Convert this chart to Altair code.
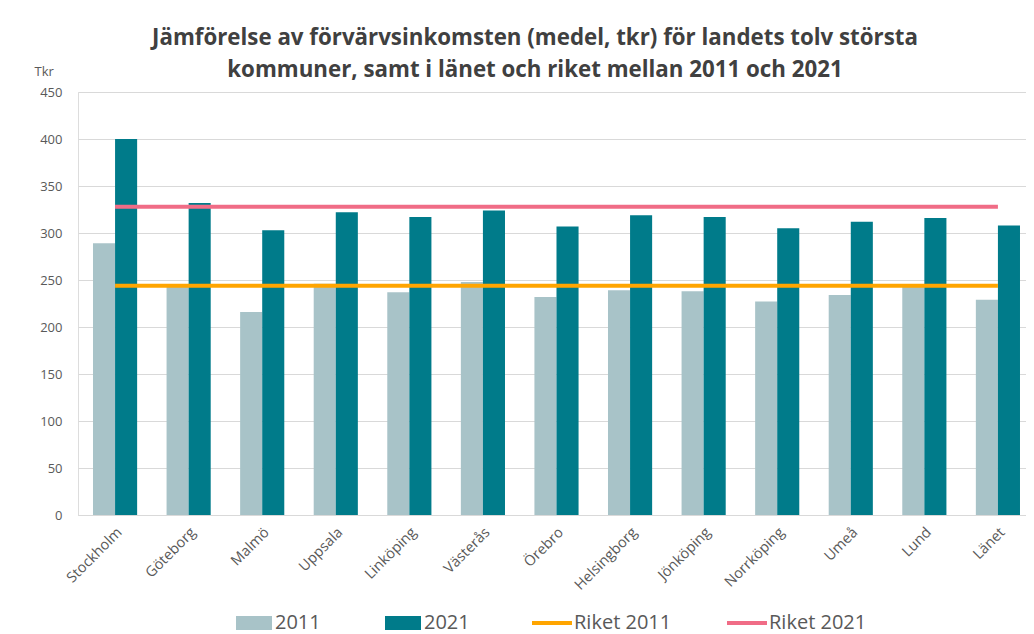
import altair as alt
import pandas as pd

categories = ["Stockholm", "Göteborg", "Malmö", "Uppsala", "Linköping", "Västerås",
              "Örebro", "Helsingborg", "Jönköping", "Norrköping", "Umeå", "Lund", "Länet"]
values_2011 = [289, 245, 216, 246, 237, 248, 232, 239, 238, 227, 234, 244, 229]
values_2021 = [400, 332, 303, 322, 317, 324, 307, 319, 317, 305, 312, 316, 308]
riket_2011 = 244
riket_2021 = 328
bar_series = ["2011", "2021"]
line_series = ["Riket 2011", "Riket 2021"]
y_ticks = [0, 50, 100, 150, 200, 250, 300, 350, 400, 450]
title_lines = ["Jämförelse av förvärvsinkomsten (medel, tkr) för landets tolv största",
               "kommuner, samt i länet och riket mellan 2011 och 2021"]

bar_colors = ["#A8C3C8", "#007B8A"]
line_colors = ["#FFA500", "#F06C86"]

rows = []
for c, a, b in zip(categories, values_2011, values_2021):
    rows.append({"kommun": c, "year": bar_series[0], "value": a})
    rows.append({"kommun": c, "year": bar_series[1], "value": b})
bars_df = pd.DataFrame(rows)

lrows = []
for c in categories:
    lrows.append({"kommun": c, "serie": line_series[0], "value": riket_2011})
    lrows.append({"kommun": c, "serie": line_series[1], "value": riket_2021})
lines_df = pd.DataFrame(lrows)

FONT = "Open Sans"
GRAY = "#595959"

x_enc = alt.X("kommun:N", sort=categories,
              scale=alt.Scale(paddingInner=0.4, paddingOuter=0.1427, align=0.714),
              axis=alt.Axis(title=None, labelAngle=-45, labelFontSize=14.5, labelColor=GRAY,
                            labelFont=FONT, ticks=False, domainColor="#D9D9D9", labelPadding=10))
y_enc = alt.Y("value:Q", scale=alt.Scale(domain=[0, 450], nice=False),
              axis=alt.Axis(title="Tkr", values=y_ticks, titleAngle=0, titleX=-44, titleY=-21,
                            titleAlign="left", titleBaseline="middle", titleFontWeight="normal",
                            titleFontSize=13, titleColor=GRAY, titleFont=FONT,
                            labelFontSize=13, labelColor=GRAY, labelFont=FONT, labelPadding=16,
                            ticks=False, domain=False, gridColor="#D9D9D9"))

bars = alt.Chart(bars_df).mark_bar().encode(
    x=x_enc,
    xOffset=alt.XOffset("year:N", sort=bar_series),
    y=y_enc,
    fill=alt.Fill("year:N", sort=bar_series,
                  scale=alt.Scale(domain=bar_series, range=bar_colors),
                  legend=alt.Legend(title=None, orient="none", direction="horizontal",
                                    legendX=158, legendY=513,
                                    symbolType="M-1,-0.39L1,-0.39L1,0.39L-1,0.39Z",
                                    symbolSize=1296, symbolStrokeWidth=0,
                                    labelFontSize=20, labelColor=GRAY, labelFont=FONT,
                                    labelOffset=3, columnPadding=64)),
)

lines = alt.Chart(lines_df).mark_line(strokeWidth=4).encode(
    x=alt.X("kommun:N", sort=categories),
    y=alt.Y("value:Q"),
    stroke=alt.Stroke("serie:N", sort=line_series,
                      scale=alt.Scale(domain=line_series, range=line_colors),
                      legend=alt.Legend(title=None, orient="none", direction="horizontal",
                                        legendX=452, legendY=509,
                                        symbolType="stroke", symbolSize=1600, symbolStrokeWidth=4,
                                        labelFontSize=20, labelColor=GRAY, labelFont=FONT,
                                        labelOffset=0, columnPadding=47)),
)

chart = alt.layer(bars, lines).resolve_scale(fill="independent", stroke="independent").properties(
    width=948, height=423,
    title=alt.Title(text=title_lines, fontSize=22.3, font=FONT, fontWeight="bold",
                    color="#404040", lineHeight=32, anchor="middle", dx=-17, offset=-16),
    autosize=alt.AutoSizeParams(type="none"),
    padding={"left": 70, "top": 84, "right": 0, "bottom": 119},
).configure_view(stroke=None).configure(background="white")

chart.save("out.html", embed_options={"renderer": "svg", "actions": False})
